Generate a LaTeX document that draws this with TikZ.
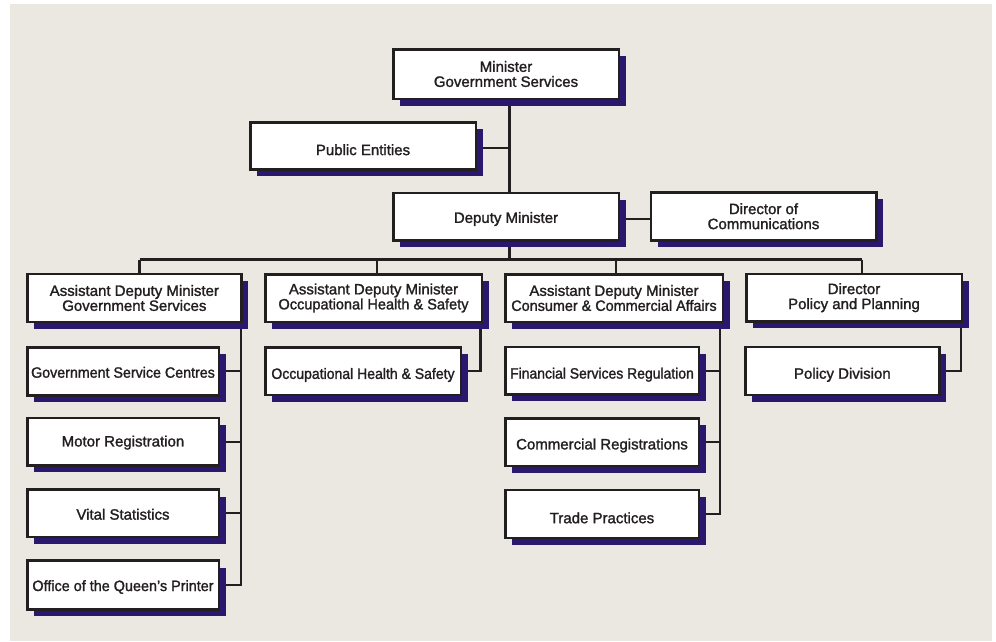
\documentclass[tikz,border=0pt]{standalone}
\usepackage{fontspec}
\setmainfont[FakeBold=1.5]{Liberation Sans}
\usetikzlibrary{shadows}
\definecolor{bgc}{RGB}{235,231,225}
\definecolor{shc}{RGB}{42,24,110}
\definecolor{inkc}{RGB}{35,31,32}
\pgfdeclarelayer{bgl}
\pgfdeclarelayer{lines}
\pgfsetlayers{bgl,lines,main}
\newcommand{\sx}[2]{\scalebox{#1}[1]{#2}}
\newcommand{\dn}[2]{\raisebox{-#1pt}[\height][\depth]{#2}}
\newcommand{\bx}[7]{\node[#7, minimum width={#4-#2-2.5}, minimum height={#5-#3-2.5}] (#1) at ({(#2+#4)/2},{(#3+#5)/2}) {#6};}
\begin{document}
\begin{tikzpicture}[x=1pt,y=-1pt,
  box/.style={draw=inkc, line width=2.5pt, fill=white, inner sep=0pt,
    font=\fontsize{15}{15}\selectfont, text=inkc,
    drop shadow={opacity=1, fill=shc, shadow xshift=7pt, shadow yshift=-7pt}},
  boxtwo/.style={box, align=center},
  conn/.style={draw=inkc, line width=2.2pt}]
\useasboundingbox (0,0) rectangle (996,641);
\begin{pgfonlayer}{bgl}
\fill[bgc] (10,4) rectangle (992,641);
\end{pgfonlayer}

\bx{min}{392}{48}{620}{100}{Minister\\Government Services}{boxtwo}
\bx{pub}{249}{121}{477}{170.5}{\dn{4}{Public Entities}}{box}
\bx{dep}{392}{191.5}{620}{241.5}{\dn{2.5}{Deputy Minister}}{box}
\bx{com}{649.5}{191}{877.5}{241.5}{Director of\\Communications}{boxtwo}
\bx{ags}{26}{272.7}{242.7}{323.3}{Assistant Deputy Minister\\Government Services}{boxtwo}
\bx{aoh}{264}{273}{483}{323}{Assistant Deputy Minister\\\sx{0.97}{Occupational Health \& Safety}}{boxtwo}
\bx{acc}{504}{273}{724}{323}{Assistant Deputy Minister\\\sx{0.96}{Consumer \& Commercial Affairs}}{boxtwo}
\bx{dpp}{745}{272.7}{963}{322.7}{Director\\Policy and Planning}{boxtwo}
\bx{gsc}{26}{346}{220}{396.7}{\dn{1}{\sx{0.95}{Government Service Centres}}}{box}
\bx{mr}{26}{416.5}{220}{466.7}{\dn{1}{Motor Registration}}{box}
\bx{vs}{26}{488.3}{220}{538.3}{\dn{1}{Vital Statistics}}{box}
\bx{qp}{26}{559.3}{220}{610.7}{\dn{2}{\sx{0.96}{Office of the Queen’s Printer}}}{box}
\bx{ohs}{264}{346}{462}{396}{\dn{4}{\sx{0.935}{Occupational Health \& Safety}}}{box}
\bx{fsr}{504}{345.7}{700}{395.7}{\dn{4}{\sx{0.93}{Financial Services Regulation}}}{box}
\bx{cr}{504}{417}{700}{467}{\dn{3.5}{Commercial Registrations}}{box}
\bx{tp}{504}{488.7}{700}{539}{\dn{4}{Trade Practices}}{box}
\bx{pd}{744}{345.7}{940.7}{396}{\dn{4}{Policy Division}}{box}

\begin{pgfonlayer}{lines}
\coordinate (sp) at (509.5,0);
\coordinate (pubj) at (509.5,148);
\coordinate (comj) at (635,219);
\coordinate (bl) at (139.5,259.5);
\coordinate (b2) at (377.3,259.5);
\coordinate (b3) at (616,259.5);
\coordinate (br) at (862,259.5);
\coordinate (g0) at (241,0);
\coordinate (o0) at (480.5,0);
\coordinate (c0) at (720,0);
\coordinate (d0) at (961,0);
\draw[conn] (min.south -| sp) -- (bl -| sp);
\draw[conn] (pub.east |- pubj) -- (pubj);
\draw[conn] (dep.east |- comj) -- (com.west |- comj);
\draw[conn] (bl) -- (br);
\draw[conn] (bl) -- (ags.north -| bl);
\draw[conn] (b2) -- (aoh.north -| b2);
\draw[conn] (b3) -- (acc.north -| b3);
\draw[conn] (br) -- (dpp.north -| br);
\draw[conn] (ags.south -| g0) |- (qp.east);
\draw[conn] (gsc.east) -- (gsc.east -| g0);
\draw[conn] (mr.east) -- (mr.east -| g0);
\draw[conn] (vs.east) -- (vs.east -| g0);
\draw[conn] (aoh.south -| o0) |- (ohs.east);
\draw[conn] (acc.south -| c0) |- (tp.east);
\draw[conn] (fsr.east) -- (fsr.east -| c0);
\draw[conn] (cr.east) -- (cr.east -| c0);
\draw[conn] (dpp.south -| d0) |- (pd.east);
\end{pgfonlayer}
\end{tikzpicture}
\end{document}
